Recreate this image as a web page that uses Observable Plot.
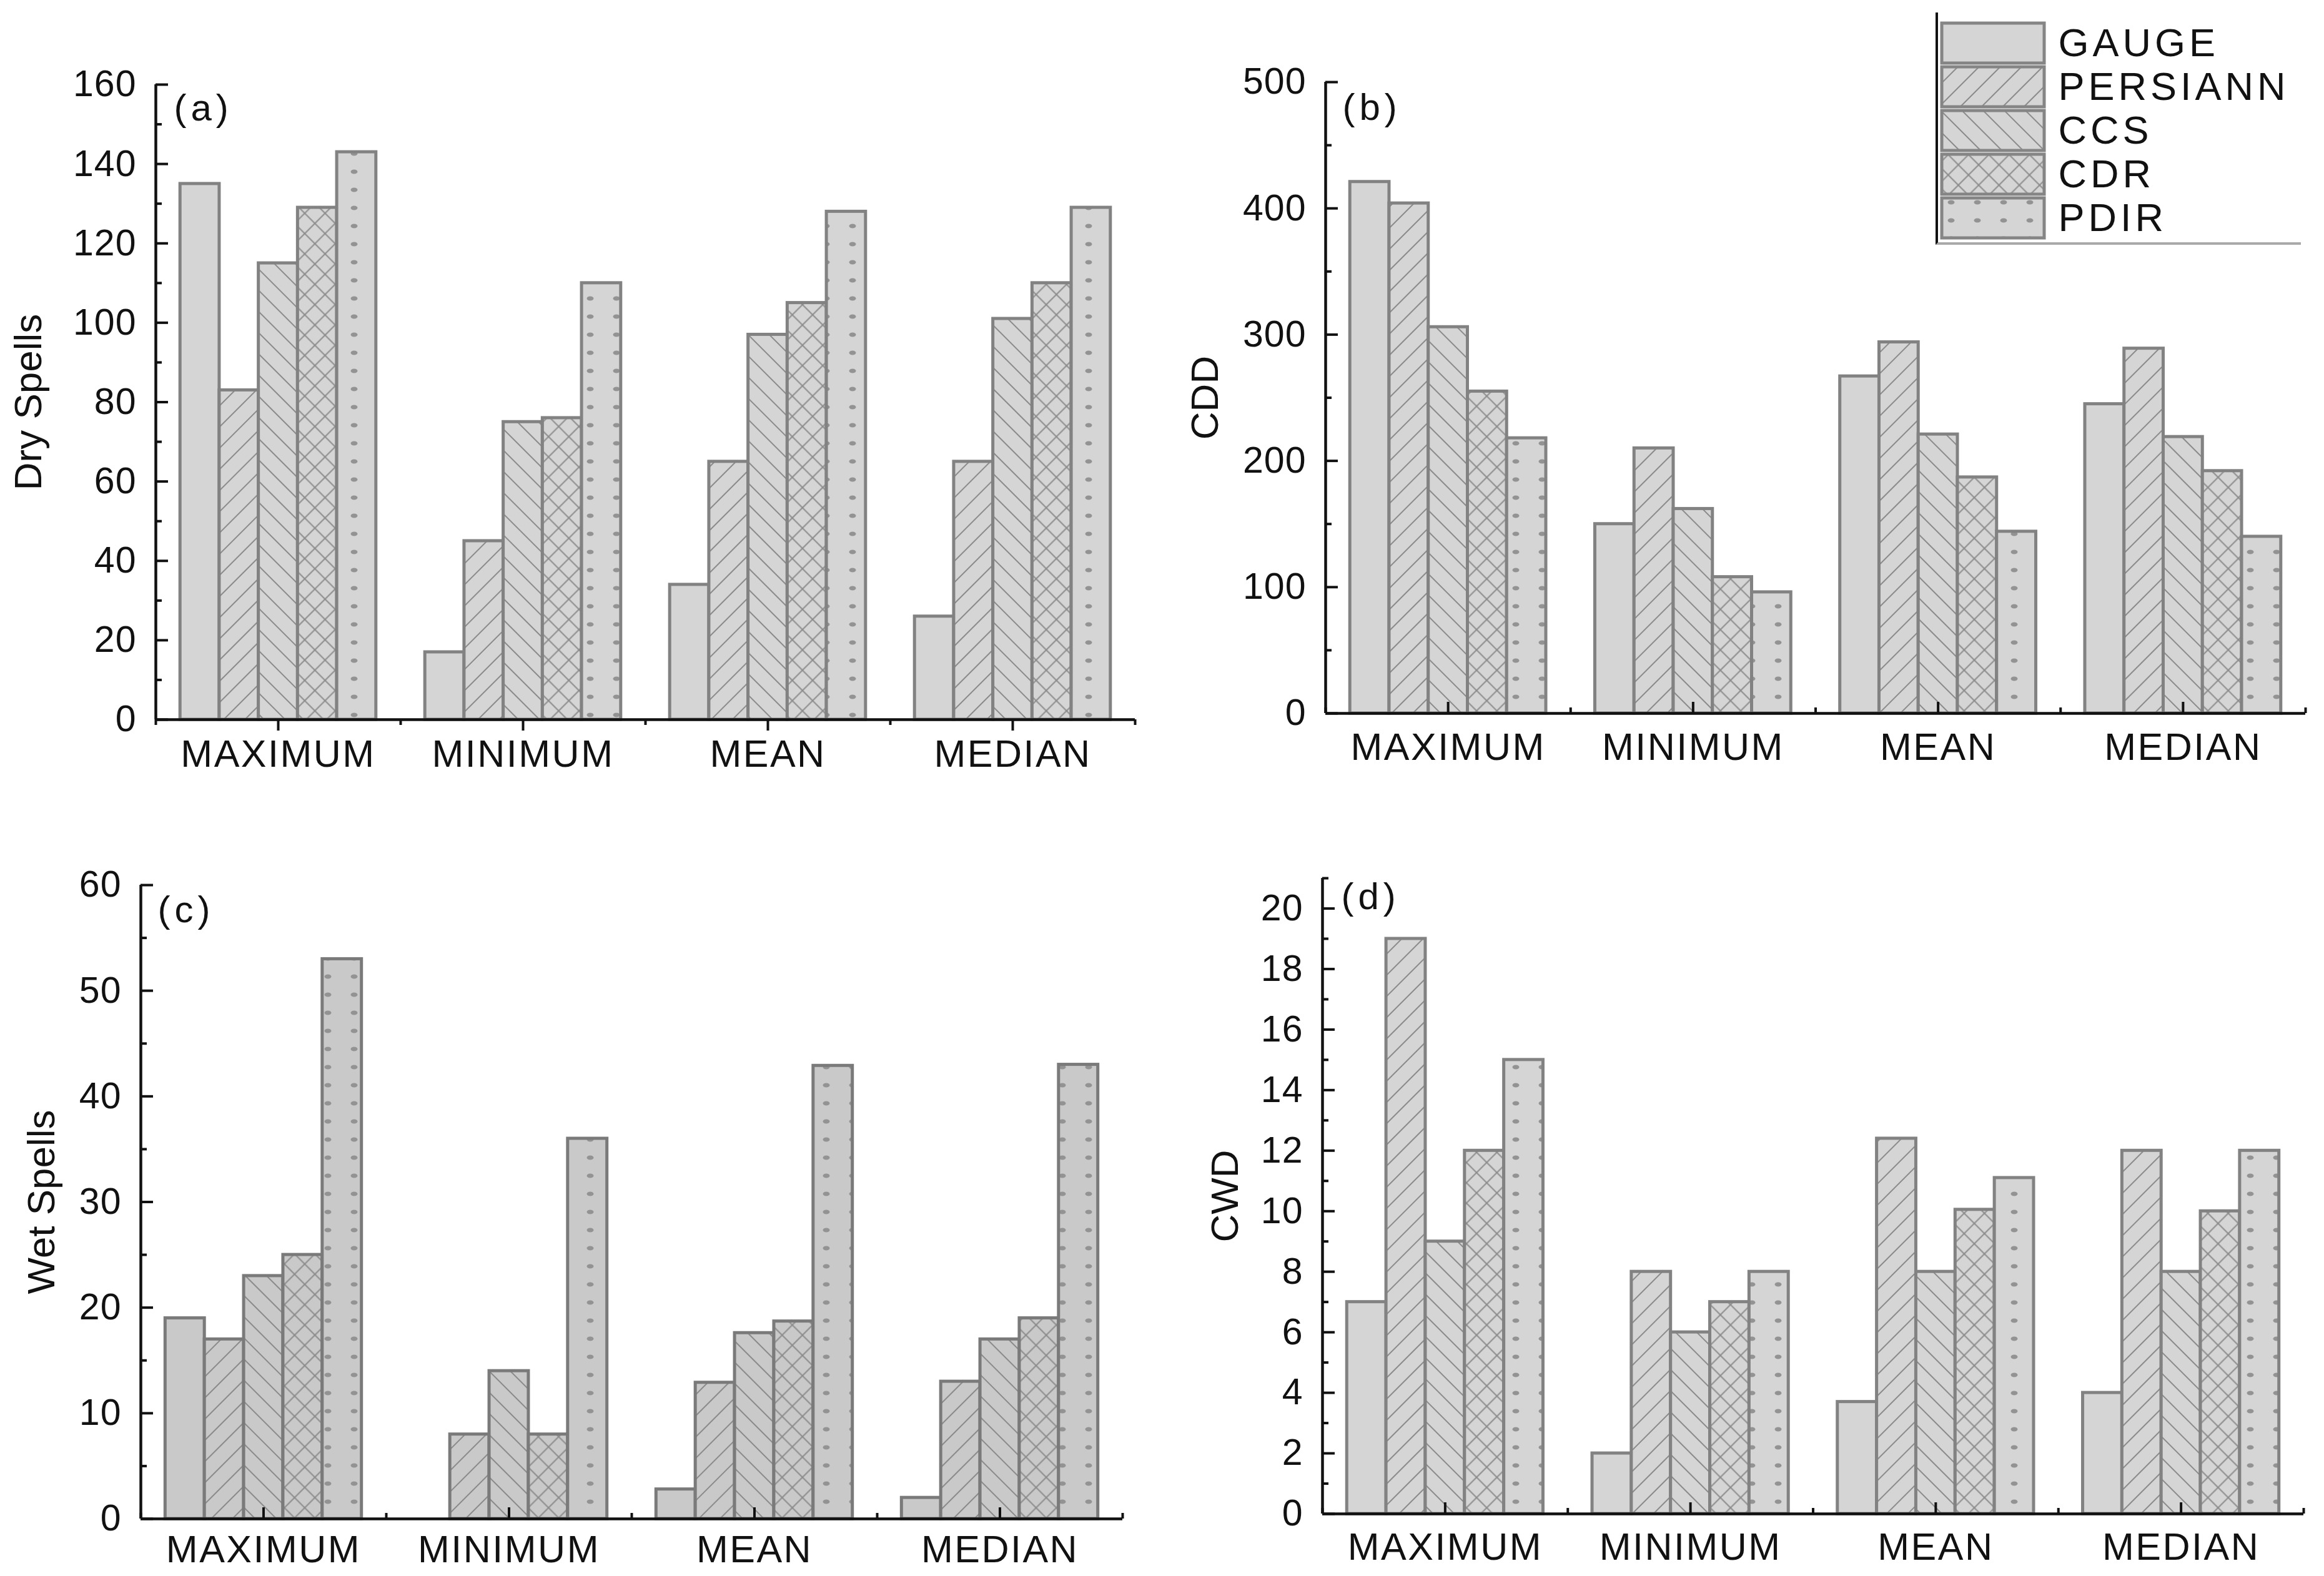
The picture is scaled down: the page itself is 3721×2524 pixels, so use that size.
<!DOCTYPE html>
<html>
<head>
<meta charset="utf-8">
<script src="https://cdn.jsdelivr.net/npm/d3@7"></script>
<script src="https://cdn.jsdelivr.net/npm/@observablehq/plot@0.6"></script>
<style>
  html, body { margin: 0; padding: 0; background: #fff; }
  #page { position: relative; width: 3721px; height: 2524px; background: #fff; overflow: hidden;
          font-family: "Liberation Sans", Arial, sans-serif; }
  .panel { position: absolute; }
  .panel svg, #legend svg { overflow: visible; max-width: none; }
  svg g[aria-label="x-axis tick label"] { letter-spacing: 2.5px; }
  svg g[aria-label="y-axis tick label"] { letter-spacing: 1px; }
  #legend { position: absolute; left: 3099px; top: 20px; width: 585px; height: 372px; box-sizing: border-box;
            border-left: 4px solid #111; border-bottom: 4px solid #a9a9a9; }
  #legend svg text { letter-spacing: 6px; }
</style>
</head>
<body>
<svg id="defs" width="0" height="0" style="position:absolute;left:0;top:0"><defs id="patternDefs"></defs></svg>
<div id="page"></div>
<script>
// ---------------- data ----------------
const categories = ["MAXIMUM", "MINIMUM", "MEAN", "MEDIAN"];
const seriesNames = ["GAUGE", "PERSIANN", "CCS", "CDR", "PDIR"];

// rows = categories, columns = series (GAUGE, PERSIANN, CCS, CDR, PDIR)
const drySpells = [
  [135, 83, 115, 129, 143],
  [17, 45, 75, 76, 110],
  [34, 65, 97, 105, 128],
  [26, 65, 101, 110, 129]
];
const cddValues = [
  [421, 404, 306, 255, 218],
  [150, 210, 162, 108, 96],
  [267, 294, 221, 187, 144],
  [245, 289, 219, 192, 140]
];
const wetSpells = [
  [19, 17, 23, 25, 53],
  [0, 8, 14, 8, 36],
  [2.8, 12.9, 17.6, 18.7, 42.9],
  [2, 13, 17, 19, 43]
];
const cwdValues = [
  [7, 19, 9, 12, 15],
  [2, 8, 6, 7, 8],
  [3.7, 12.4, 8, 10.05, 11.1],
  [4, 12, 8, 10, 12]
];

const dryTicks = [0, 20, 40, 60, 80, 100, 120, 140, 160];
const cddTicks = [0, 100, 200, 300, 400, 500];
const wetTicks = [0, 10, 20, 30, 40, 50, 60];
const cwdTicks = [0, 2, 4, 6, 8, 10, 12, 14, 16, 18, 20];

// ---------------- patterns ----------------
function patternSet(tone, base) {
  const ln = "#8a8a8a";
  return `
  <pattern id="${tone}-0" patternUnits="userSpaceOnUse" width="10" height="10">
    <rect width="10" height="10" fill="${base}"/></pattern>
  <pattern id="${tone}-1" patternUnits="userSpaceOnUse" width="24" height="24" patternTransform="rotate(-45)">
    <rect width="24" height="24" fill="${base}"/>
    <line x1="0" y1="12" x2="24" y2="12" stroke="${ln}" stroke-width="2"/></pattern>
  <pattern id="${tone}-2" patternUnits="userSpaceOnUse" width="24" height="24" patternTransform="rotate(45)">
    <rect width="24" height="24" fill="${base}"/>
    <line x1="0" y1="12" x2="24" y2="12" stroke="${ln}" stroke-width="2"/></pattern>
  <pattern id="${tone}-3" patternUnits="userSpaceOnUse" width="23" height="23" patternTransform="rotate(45)">
    <rect width="23" height="23" fill="${base}"/>
    <line x1="0" y1="11.5" x2="23" y2="11.5" stroke="${ln}" stroke-width="2"/>
    <line x1="11.5" y1="0" x2="11.5" y2="23" stroke="${ln}" stroke-width="2"/></pattern>
  <pattern id="${tone}-4" patternUnits="userSpaceOnUse" width="42" height="29">
    <rect width="42" height="29" fill="${base}"/>
    <ellipse cx="21" cy="14" rx="5.5" ry="3.5" fill="#939393"/></pattern>`;
}
document.getElementById("patternDefs").innerHTML =
  patternSet("light", "#d5d5d5") + patternSet("dark", "#c9c9c9");

// ---------------- panels ----------------
const FONT = '"Liberation Sans", Arial, sans-serif';

function panel(cfg) {
  const rows = [];
  cfg.values.forEach((vals, ci) => vals.forEach((v, si) =>
    rows.push({category: categories[ci], ci, series: seriesNames[si], si, value: v})));
  const groupPad = 0.1, barW = 0.8 / seriesNames.length;
  const x1 = d => d.ci + groupPad + d.si * barW;
  const x2 = d => d.ci + groupPad + (d.si + 1) * barW;
  const centers = categories.map((c, i) => i + 0.5);
  const bounds = d3.range(0, categories.length + 1);
  const step = cfg.ticks[1] - cfg.ticks[0];
  const minor = d3.range(step / 2, cfg.yMax + 1e-9, step);
  const blank = () => "";

  const marks = [];
  seriesNames.forEach((s, si) => {
    marks.push(Plot.rect(rows.filter(d => d.si === si && d.value > 0), {
      x1, x2, y1: d => 0, y2: d => d.value,
      fill: `url(#${cfg.tone}-${si})`, stroke: cfg.barStroke, strokeWidth: 5
    }));
  });
  marks.push(
    Plot.ruleY([0], {stroke: "#111", strokeWidth: 4.5}),
    Plot.ruleX([0], {stroke: "#111", strokeWidth: 4.5}),
    Plot.axisY({ticks: cfg.ticks, tickSize: 0, tickPadding: 31, fontSize: 59, label: null, fill: "#111"}),
    Plot.axisY({ticks: cfg.ticks, tickSize: 20, dx: 20, tickFormat: blank, strokeWidth: 4, stroke: "#111", label: null}),
    Plot.axisY({ticks: minor, tickSize: 10, dx: 10, tickFormat: blank, strokeWidth: 4, stroke: "#111", label: null}),
    Plot.axisX({ticks: centers, tickFormat: v => categories[Math.floor(v)], tickSize: 0,
                tickPadding: cfg.xPad, fontSize: 61, label: null, fill: "#111"}),
    Plot.axisX({ticks: centers, tickSize: 18, dy: cfg.down ? 0 : -18, tickFormat: blank,
                strokeWidth: 4, stroke: "#111", label: null}),
    Plot.axisX({ticks: bounds, tickSize: 9, dy: cfg.down ? 0 : -9, tickFormat: blank,
                strokeWidth: 4, stroke: "#111", label: null}),
    Plot.text([cfg.title], {text: d => d, frameAnchor: "left", dx: cfg.titleDx, rotate: -90,
                            textAnchor: "middle", lineAnchor: "middle", fontSize: 62, fill: "#111"}),
    Plot.text([cfg.tag], {text: d => d, frameAnchor: "top-left", dx: cfg.tagDx, dy: cfg.tagDy,
                          textAnchor: "start", lineAnchor: "middle", fontSize: 60, fill: "#111",
                          style: "letter-spacing: 7px"})
  );

  const svg = Plot.plot({
    width: cfg.width, height: cfg.height,
    marginLeft: cfg.mL, marginRight: cfg.mR, marginTop: cfg.mT, marginBottom: cfg.mB,
    x: {domain: [0, categories.length], axis: null},
    y: {domain: [0, cfg.yMax], axis: null},
    style: {fontFamily: FONT, color: "#111", background: "transparent"},
    marks
  });
  svg.querySelectorAll('g[aria-label="text"] text').forEach(t => {
    if (t.textContent.startsWith("(")) t.style.letterSpacing = "7px";
  });
  const div = document.createElement("div");
  div.className = "panel";
  div.style.left = cfg.left + "px";
  div.style.top = cfg.top + "px";
  div.style.width = cfg.width + "px";
  div.style.height = cfg.height + "px";
  div.appendChild(svg);
  document.getElementById("page").appendChild(div);
}

panel({values: drySpells, ticks: dryTicks, yMax: 160, title: "Dry Spells", tag: "(a)",
       left: 0, top: 0, width: 1860, height: 1260, mL: 249, mR: 43, mT: 135, mB: 108,
       titleDx: -203, tagDx: 29, tagDy: 38, down: true, xPad: 32, tone: "light", barStroke: "#828282"});
panel({values: cddValues, ticks: cddTicks, yMax: 500, title: "CDD", tag: "(b)",
       left: 1860, top: 0, width: 1861, height: 1260, mL: 262, mR: 30, mT: 131, mB: 118,
       titleDx: -192, tagDx: 27, tagDy: 41, down: false, xPad: 31, tone: "light", barStroke: "#828282"});
panel({values: wetSpells, ticks: wetTicks, yMax: 60, title: "Wet Spells", tag: "(c)",
       left: 0, top: 1260, width: 1860, height: 1264, mL: 225, mR: 63, mT: 157, mB: 92,
       titleDx: -158, tagDx: 27, tagDy: 40, down: false, xPad: 26, tone: "dark", barStroke: "#7a7a7a"});
panel({values: cwdValues, ticks: cwdTicks, yMax: 21, title: "CWD", tag: "(d)",
       left: 1860, top: 1260, width: 1861, height: 1264, mL: 257, mR: 33, mT: 146, mB: 100,
       titleDx: -155, tagDx: 30, tagDy: 30, down: false, xPad: 30, tone: "light", barStroke: "#828282"});

// ---------------- legend ----------------
const legendMarks = seriesNames.map((s, i) =>
  Plot.barX([s], {y: d => d, x1: d => 0, x2: d => 1, fill: `url(#light-${i})`,
                  stroke: "#858585", strokeWidth: 5}));
legendMarks.push(Plot.text(seriesNames, {y: d => d, x: d => 1, dx: 22, text: d => d,
                                         textAnchor: "start", fontSize: 63, fill: "#111"}));
const legendSvg = Plot.plot({
  width: 575, height: 368, marginTop: 15, marginBottom: 4, marginLeft: 6, marginRight: 405,
  x: {domain: [0, 1], axis: null},
  y: {domain: seriesNames, axis: null, paddingInner: 0.08, paddingOuter: 0},
  style: {fontFamily: FONT, background: "transparent", overflow: "visible"},
  marks: legendMarks
});
const legendDiv = document.createElement("div");
legendDiv.id = "legend";
legendDiv.appendChild(legendSvg);
document.getElementById("page").appendChild(legendDiv);
</script>
</body>
</html>
